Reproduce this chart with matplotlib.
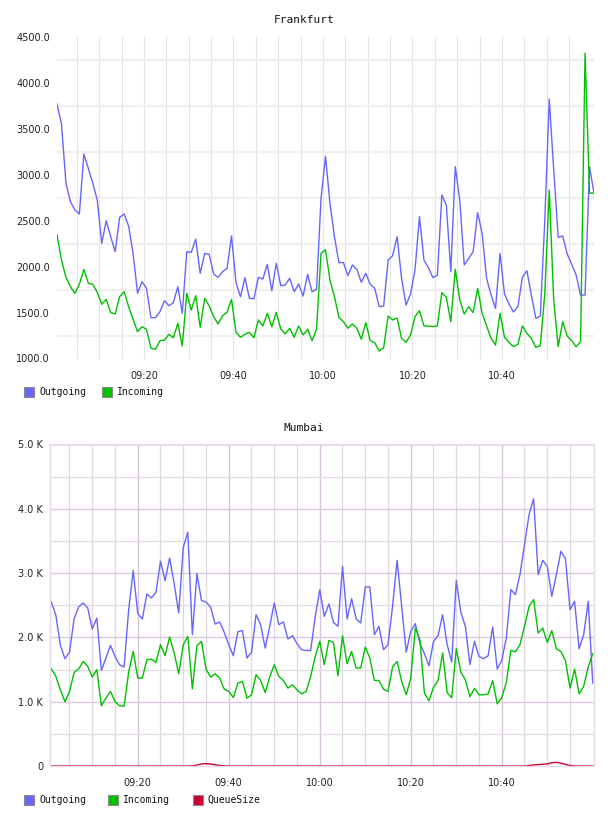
import numpy as np
import matplotlib
matplotlib.use('Agg')
import matplotlib.pyplot as plt
from matplotlib.patches import Rectangle

# data (minutes after 09:00, 1 sample per minute)
fra_out = [3770, 3553, 2907, 2707, 2617, 2573, 3226, 3070, 2907, 2725,
           2254, 2500, 2326, 2163, 2537, 2573, 2442, 2145, 1710, 1836,
           1764, 1444, 1444, 1510, 1629, 1575, 1608, 1782, 1492, 2163,
           2156, 2300, 1927, 2145, 2134, 1920, 1884, 1945, 1982, 2334,
           1825, 1673, 1880, 1655, 1650, 1884, 1865, 2025, 1738, 2036,
           1793, 1800, 1873, 1727, 1811, 1680, 1916, 1727, 1753, 2744,
           3200, 2689, 2326, 2043, 2045, 1901, 2018, 1971, 1830, 1927,
           1808, 1764, 1564, 1572, 2072, 2119, 2326, 1873, 1582, 1702,
           1963, 2544, 2072, 1988, 1880, 1909, 2780, 2671, 1945, 3088,
           2725, 2018, 2090, 2163, 2588, 2363, 1873, 1691, 1546, 2145,
           1702, 1593, 1506, 1564, 1884, 1956, 1691, 1437, 1463, 2500,
           3822, 3052, 2319, 2334, 2138, 2029, 1909, 1691, 1691, 3088,
           2800]
fra_in = [2344, 2072, 1884, 1782, 1710, 1808, 1971, 1819, 1808, 1720,
          1590, 1644, 1499, 1485, 1673, 1727, 1564, 1427, 1292, 1346,
          1318, 1111, 1100, 1194, 1200, 1263, 1226, 1383, 1136, 1710,
          1528, 1684, 1340, 1655, 1575, 1455, 1376, 1466, 1503, 1644,
          1285, 1231, 1263, 1285, 1226, 1419, 1354, 1492, 1346, 1503,
          1321, 1267, 1329, 1231, 1354, 1256, 1318, 1194, 1321, 2145,
          2185, 1855, 1673, 1448, 1401, 1329, 1376, 1329, 1209, 1390,
          1194, 1172, 1082, 1118, 1463, 1419, 1441, 1220, 1176, 1256,
          1455, 1520, 1354, 1354, 1347, 1357, 1716, 1666, 1401, 1971,
          1637, 1484, 1564, 1499, 1764, 1492, 1354, 1220, 1147, 1492,
          1231, 1176, 1129, 1154, 1354, 1274, 1220, 1122, 1140, 1700,
          2834, 1629, 1129, 1401, 1245, 1194, 1129, 1183, 4322, 2800,
          2800]

mum_out = [2551, 2343, 1875, 1668, 1772, 2286, 2473, 2536, 2458, 2131,
           2302, 1486, 1679, 1875, 1704, 1575, 1539, 2431, 3039, 2369,
           2286, 2676, 2614, 2701, 3184, 2883, 3236, 2836, 2380, 3402,
           3636, 2042, 2992, 2572, 2551, 2473, 2208, 2240, 2078, 1886,
           1715, 2089, 2105, 1679, 1767, 2353, 2198, 1834, 2172, 2536,
           2198, 2240, 1975, 2027, 1902, 1808, 1797, 1797, 2327, 2740,
           2327, 2520, 2234, 2172, 3106, 2286, 2603, 2286, 2224, 2785,
           2785, 2042, 2172, 1808, 1886, 2483, 3199, 2483, 1772, 2094,
           2213, 1912, 1746, 1559, 1938, 2027, 2353, 1886, 1617, 2888,
           2390, 2172, 1575, 1938, 1704, 1668, 1715, 2162, 1508, 1643,
           1990, 2743, 2665, 2977, 3444, 3911, 4156, 2977, 3199, 3106,
           2639, 2977, 3340, 3226, 2431, 2561, 1824, 2042, 2561, 1290]
mum_in = [1512, 1393, 1185, 1000, 1155, 1455, 1508, 1626, 1550, 1383,
          1500, 936, 1056, 1159, 1003, 936, 930, 1460, 1782, 1367,
          1367, 1653, 1663, 1611, 1886, 1715, 2006, 1757, 1434, 1886,
          2016, 1200, 1871, 1938, 1508, 1383, 1434, 1367, 1196, 1159,
          1065, 1290, 1315, 1055, 1107, 1419, 1330, 1143, 1383, 1575,
          1393, 1330, 1212, 1262, 1185, 1123, 1159, 1393, 1704, 1938,
          1575, 1953, 1922, 1403, 2027, 1590, 1782, 1523, 1523, 1850,
          1679, 1330, 1330, 1196, 1159, 1539, 1626, 1315, 1107, 1367,
          2146, 1964, 1134, 1014, 1227, 1330, 1759, 1140, 1060, 1825,
          1463, 1340, 1078, 1209, 1107, 1107, 1123, 1328, 967, 1065,
          1300, 1798, 1776, 1886, 2172, 2483, 2587, 2068, 2146, 1922,
          2105, 1819, 1782, 1637, 1212, 1508, 1123, 1237, 1539, 1746]
mum_queue = [0, 0, 0, 0, 0, 0, 0, 0, 0, 0,
             0, 0, 0, 0, 0, 0, 0, 0, 0, 0,
             0, 0, 0, 0, 0, 0, 0, 0, 0, 0,
             0, 3, 15, 32, 37, 30, 20, 10, 3, 0,
             0, 0, 0, 0, 0, 0, 0, 0, 0, 0,
             0, 0, 0, 0, 0, 0, 0, 0, 0, 0,
             0, 0, 0, 0, 0, 0, 0, 0, 0, 0,
             0, 0, 0, 0, 0, 0, 0, 0, 0, 0,
             0, 0, 0, 0, 0, 0, 0, 0, 0, 0,
             0, 0, 0, 0, 0, 0, 0, 0, 0, 0,
             0, 0, 0, 0, 0, 8, 17, 22, 27, 33,
             50, 57, 45, 25, 8, 2, 0, 0, 0, 0]

tick_min = [20, 40, 60, 80, 100]
tick_lbl = ['09:20', '09:40', '10:00', '10:20', '10:40']
fra_yticks = [1000, 1500, 2000, 2500, 3000, 3500, 4000, 4500]
mum_yticks = [0, 1000, 2000, 3000, 4000, 5000]
mum_ylbl = ['0', '1.0 K', '2.0 K', '3.0 K', '4.0 K', '5.0 K']

C_OUT = '#6666ff'
C_IN = '#00c000'
C_Q = '#cc0033'

W, H = 608, 816
fig = plt.figure(figsize=(W / 100, H / 100), dpi=100)
fig.patch.set_facecolor('white')


def px_axes(l, t, r, b):
    return fig.add_axes([l / W, 1 - b / H, (r - l) / W, (b - t) / H])


def legend_row(y, names, colors, xs):
    for name, c, x in zip(names, colors, xs):
        fig.add_artist(Rectangle((x / W, 1 - (y + 5) / H), 10 / W, 10 / H,
                                 transform=fig.transFigure, facecolor=c,
                                 edgecolor='#8a8a8a', lw=0.8))
        fig.text((x + 15) / W, 1 - y / H, name, va='center', ha='left',
                 family='DejaVu Sans Mono', size=7, color='#111111')


def style_ticks(ax):
    ax.tick_params(length=0, labelsize=7, colors='#222222')
    ax.tick_params(axis='y', pad=5)
    ax.tick_params(axis='x', pad=9)
    ax.set_xticks(tick_min)
    ax.set_xticklabels(tick_lbl)


# ---------- Frankfurt
ax1 = px_axes(57, 37, 594, 358.5)
t_fra = 0.58 + np.arange(len(fra_out))
for m in range(5, 120, 5):
    ax1.axvline(m, color='#e4e4e4', lw=0.8, zorder=0)
for v in range(1250, 4500, 500):
    ax1.axhline(v, color='#efefef', lw=1.6, zorder=0)
ax1.plot(t_fra, fra_out, color=C_OUT, lw=1.0)
ax1.plot(t_fra, fra_in, color=C_IN, lw=1.0)
ax1.set_xlim(t_fra[0], t_fra[-1])
ax1.set_ylim(1000, 4500)
ax1.set_yticks(fra_yticks)
ax1.set_yticklabels(['%.1f' % v for v in fra_yticks])
style_ticks(ax1)
for s in ax1.spines.values():
    s.set_visible(False)
fig.text(0.5, 1 - 20 / H, 'Frankfurt', ha='center', va='center',
         family='DejaVu Sans Mono', size=8, color='#111111')
legend_row(392, ['Outgoing', 'Incoming'], [C_OUT, C_IN], [24, 102])

# ---------- Mumbai
ax2 = px_axes(50, 444.5, 594, 766)
t_mum = 1.01 + np.arange(len(mum_out))
for m in range(5, 120, 5):
    major = m % 20 == 0
    ax2.axvline(m, color='#d9c3dc' if major else '#dfd8e2',
                lw=1.0 if major else 0.9, zorder=0)
for v in range(500, 5000, 500):
    major = v % 1000 == 0
    ax2.axhline(v, color='#dcc8e0' if major else '#e2dbe4',
                lw=1.0 if major else 0.9, zorder=0)
ax2.plot(t_mum, mum_out, color=C_OUT, lw=1.0)
ax2.plot(t_mum, mum_in, color=C_IN, lw=1.0)
ax2.plot(t_mum, mum_queue, color=C_Q, lw=1.0)
ax2.set_xlim(0.72, 120.28)
ax2.set_ylim(0, 5000)
ax2.set_yticks(mum_yticks)
ax2.set_yticklabels(mum_ylbl)
style_ticks(ax2)
for side, s in ax2.spines.items():
    s.set_color('#e8d8ec')
    s.set_linewidth(1.4 if side == 'top' else 1.0)
fig.text(0.5, 1 - 428 / H, 'Mumbai', ha='center', va='center',
         family='DejaVu Sans Mono', size=8, color='#111111')
legend_row(800, ['Outgoing', 'Incoming', 'QueueSize'], [C_OUT, C_IN, C_Q],
           [24, 108, 193])

fig.savefig('out.png', dpi=100)
